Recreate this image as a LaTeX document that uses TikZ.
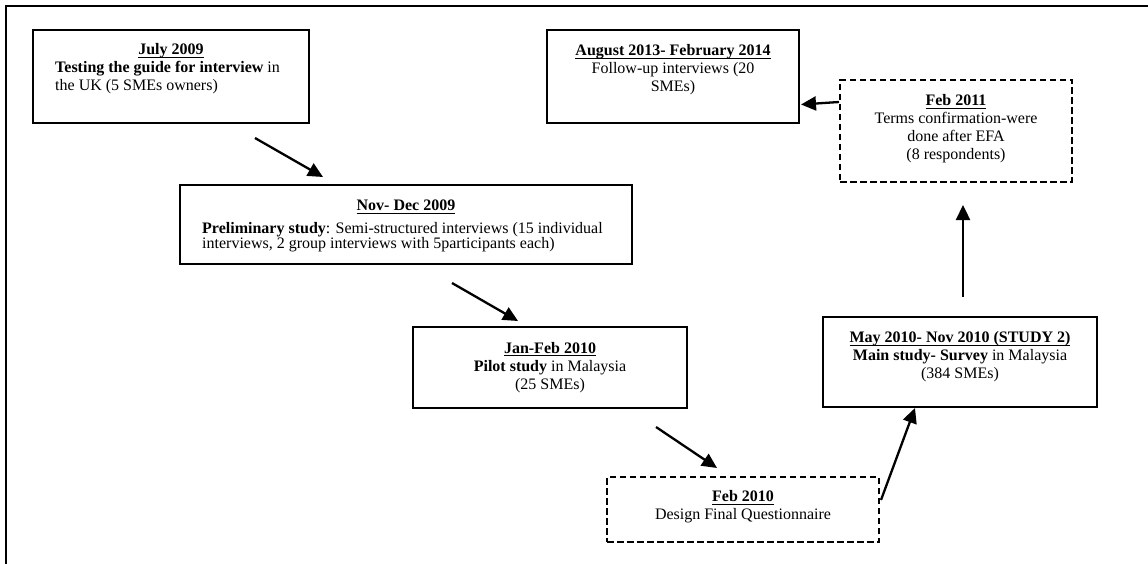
\documentclass[tikz,border=0pt]{standalone}
\usepackage{fontspec}
\setmainfont{Liberation Serif}
\usetikzlibrary{arrows.meta}
\newcommand\hdr[1]{\setbox0=\hbox{\textbf{#1}}\rlap{\rule[-3pt]{\wd0}{1.2pt}}\box0}
\tikzset{
  solidbox/.style={draw, line width=2pt, inner sep=0pt},
  dashbox/.style={draw, line width=2pt, inner sep=0pt, dash pattern=on 6.5pt off 3.5pt},
  ln/.style={inner sep=0pt, font=\fontsize{16}{18.4}\selectfont, anchor=base},
  lnl/.style={ln, anchor=base west},
  arr/.style={line width=2.3pt, -{Triangle[length=15pt,width=14pt]}},
  frame/.style={line width=2pt}
}
\begin{document}
\begin{tikzpicture}[x=1pt,y=-1pt]
\useasboundingbox (0,0) rectangle (1148,564);
\draw[frame] (6,564) -- (6,6) -- (1148,6);

% boxes
\node[solidbox, minimum width=276pt, minimum height=93pt] (a) at (171,76.5) {};
\node[solidbox, minimum width=252pt, minimum height=93pt] (b) at (673,76.5) {};
\node[dashbox, minimum width=232pt, minimum height=102pt] (c) at (956,131) {};
\node[solidbox, minimum width=452pt, minimum height=79pt] (d) at (406,224.5) {};
\node[solidbox, minimum width=274pt, minimum height=81pt] (e) at (550,367.5) {};
\node[dashbox, minimum width=272pt, minimum height=65pt] (f) at (743,509.5) {};
\node[solidbox, minimum width=274pt, minimum height=90pt] (g) at (960,362) {};

% box A text
\node[ln] (a1) at (171,55) {\hdr{July 2009}};
\node[lnl] (a2) at (55,73) {\textbf{Testing the guide for interview} in};
\node[lnl] (a3) at (55,91) {the UK (5 SMEs owners)};

% box B text
\node[ln] (b1) at (673,56) {\hdr{August 2013- February 2014}};
\node[ln] (b2) at (673,74) {Follow-up interviews (20};
\node[ln] (b3) at (673,92) {SMEs)};

% box C text
\node[ln] (c1) at (956,106) {\hdr{Feb 2011}};
\node[ln] (c2) at (956,124) {Terms confirmation-were};
\node[ln] (c3) at (956,142) {done after EFA};
\node[ln] (c4) at (956,160) {(8 respondents)};

% box D text
\node[ln] (d1) at (406,210.7) {\hdr{Nov- Dec 2009}};
\node[lnl] (d2) at (202,233.3) {\textbf{Preliminary study}: Semi-structured interviews (15 individual};
\node[lnl] (d3) at (202,248.3) {interviews, 2 group interviews with 5participants each)};

% box E text
\node[ln] (e1) at (550,353.3) {\hdr{Jan-Feb 2010}};
\node[ln] (e2) at (550,371.5) {\textbf{Pilot study} in Malaysia};
\node[ln] (e3) at (550,389.3) {(25 SMEs)};

% box F text
\node[ln] (f1) at (743,501.7) {\hdr{Feb 2010}};
\node[ln] (f2) at (743,519.3) {Design Final Questionnaire};

% box G text
\node[ln] (g1) at (960,342.7) {\hdr{May 2010- Nov 2010 (STUDY 2)}};
\node[ln] (g2) at (960,360.7) {\textbf{Main study- Survey} in Malaysia};
\node[ln] (g3) at (960,378.3) {(384 SMEs)};

% arrows
\draw[arr] ([shift={(84,14)}]a.south) -- ([shift={(-83,-7)}]d.north);
\draw[arr] ([shift={(46,18)}]d.south) -- ([shift={(-32,-5)}]e.north);
\draw[arr] ([shift={(106,18)}]e.south) -- ([shift={(-26,-8)}]f.north);
\draw[arr] ([shift={(1,-9.5)}]f.east) -- ([shift={(-45,0)}]g.south);
\draw[arr] ([shift={(3,-19)}]g.north) -- ([shift={(7,22)}]c.south);
\draw[arr] ([shift={(0,-29)}]c.west) -- ([shift={(1,28)}]b.east);
\end{tikzpicture}
\end{document}
